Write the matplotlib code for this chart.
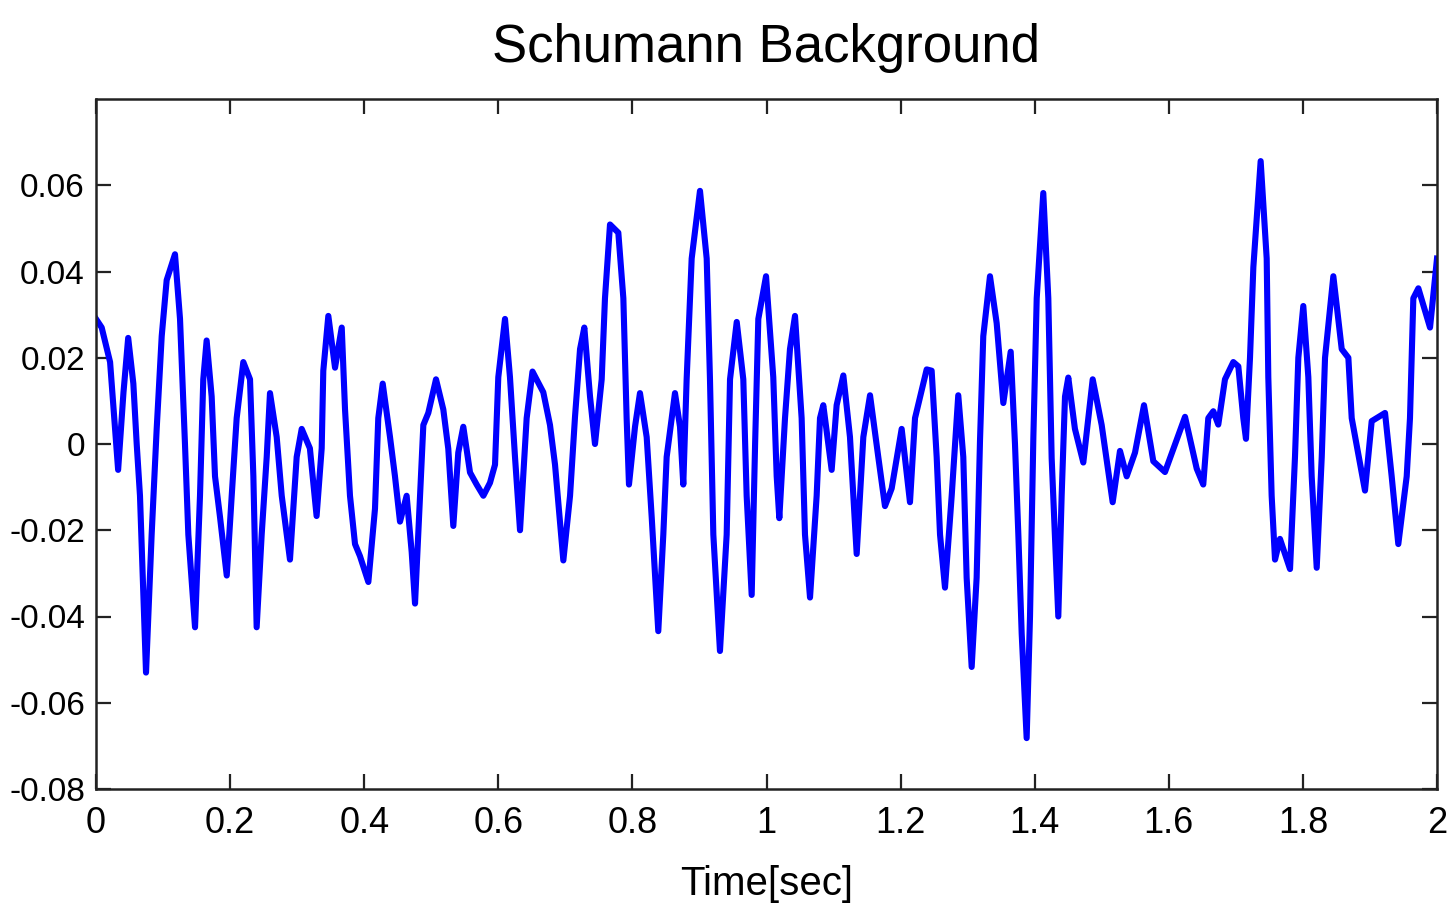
import matplotlib
matplotlib.use("Agg")
import matplotlib.pyplot as plt
from matplotlib import font_manager

# ---- data (time in s, amplitude) ----
time_s = [
    0.000, 0.0085, 0.021, 0.028, 0.033, 0.041, 0.048, 0.0557, 0.0607, 0.0656,
    0.0746, 0.083, 0.0905, 0.098, 0.1054, 0.1178, 0.1253, 0.1327, 0.1377, 0.1477,
    0.1551, 0.160, 0.165, 0.1725, 0.1775, 0.185, 0.195, 0.2024, 0.2098, 0.2197,
    0.2297, 0.2347, 0.2396, 0.2471, 0.2546, 0.2595, 0.2695, 0.277, 0.2893, 0.2993,
    0.3068, 0.319, 0.329, 0.3366, 0.339, 0.3465, 0.3565, 0.3665, 0.3714, 0.3788,
    0.3863, 0.3937, 0.4062, 0.4161, 0.421, 0.4276, 0.4385, 0.4459, 0.4534, 0.4633,
    0.4708, 0.4758, 0.4832, 0.4882, 0.4956, 0.5071, 0.518, 0.5254, 0.5329, 0.5403,
    0.5478, 0.5578, 0.5677, 0.5777, 0.5876, 0.5951, 0.600, 0.610, 0.6174, 0.6249,
    0.6324, 0.6423, 0.651, 0.6671, 0.6771, 0.6846, 0.697, 0.707, 0.7144, 0.7219,
    0.7283, 0.7368, 0.7442, 0.7542, 0.7591, 0.7666, 0.779, 0.7865, 0.7914, 0.7949,
    0.8039, 0.8113, 0.8213, 0.8288, 0.8386, 0.8461, 0.8511, 0.8635, 0.871, 0.8759,
    0.8809, 0.8884, 0.9008, 0.9108, 0.9157, 0.9207, 0.9306, 0.9406, 0.9456, 0.9556,
    0.9654, 0.9704, 0.9779, 0.983, 0.9878, 0.9993, 1.0101, 1.0152, 1.0191, 1.0276,
    1.035, 1.0425, 1.0524, 1.0574, 1.0649, 1.0748, 1.0798, 1.0847, 1.0972, 1.1046,
    1.1146, 1.1245, 1.1295, 1.1345, 1.1444, 1.1544, 1.1667, 1.1767, 1.1867, 1.2016,
    1.214, 1.2215, 1.2389, 1.2463, 1.2538, 1.2588, 1.2662, 1.2762, 1.286, 1.2935,
    1.2985, 1.306, 1.3134, 1.3184, 1.3233, 1.3333, 1.3433, 1.3532, 1.3642, 1.3706,
    1.3756, 1.3806, 1.388, 1.393, 1.398, 1.403, 1.4128, 1.4203, 1.4253, 1.4352,
    1.4402, 1.4452, 1.4501, 1.4600, 1.4725, 1.4865, 1.4999, 1.5163, 1.5272, 1.5372,
    1.5496, 1.563, 1.5769, 1.5943, 1.6242, 1.6416, 1.6514, 1.6589, 1.6664, 1.6738,
    1.6838, 1.6962, 1.7037, 1.7111, 1.7151, 1.7211, 1.7261, 1.737, 1.746, 1.7484,
    1.7534, 1.7584, 1.7658, 1.7808, 1.7882, 1.7932, 1.8006, 1.8081, 1.8131, 1.8206,
    1.8281, 1.833, 1.8454, 1.8579, 1.8678, 1.8728, 1.8926, 1.9026, 1.9225, 1.9324,
    1.9423, 1.9548, 1.9597, 1.9647, 1.9722, 1.9896, 2.000,
]
amplitude = [
    0.029, 0.027, 0.019, 0.0044, -0.006, 0.012, 0.0246, 0.014, 0.0, -0.012,
    -0.053, -0.021, 0.0035, 0.025, 0.038, 0.044, 0.029, 0.0, -0.021, -0.0425,
    -0.012, 0.015, 0.024, 0.011, -0.0075, -0.017, -0.0305, -0.012, 0.006, 0.019,
    0.015, -0.0075, -0.0425, -0.021, -0.003, 0.0118, 0.0016, -0.012, -0.0268, -0.003,
    0.0035, -0.001, -0.0167, -0.001, 0.017, 0.0297, 0.0177, 0.027, 0.008, -0.012,
    -0.0232, -0.026, -0.032, -0.015, 0.006, 0.014, 0.0016, -0.0075, -0.018, -0.012,
    -0.025, -0.037, -0.012, 0.0044, 0.0072, 0.015, 0.008, -0.0011, -0.019, -0.002,
    0.004, -0.0066, -0.0094, -0.012, -0.009, -0.0048, 0.0155, 0.029, 0.0155, -0.003,
    -0.020, 0.006, 0.0168, 0.012, 0.0044, -0.0048, -0.027, -0.012, 0.0063, 0.022,
    0.027, 0.011, 0.0, 0.015, 0.0338, 0.0509, 0.049, 0.0338, 0.006, -0.0094,
    0.004, 0.0118, 0.0016, -0.017, -0.0434, -0.021, -0.003, 0.0118, 0.004, -0.0094,
    0.015, 0.043, 0.0587, 0.043, 0.015, -0.021, -0.048, -0.021, 0.015, 0.0283,
    0.015, -0.012, -0.035, 0.0, 0.029, 0.0389, 0.0155, -0.0075, -0.0172, 0.006,
    0.022, 0.0297, 0.006, -0.021, -0.0356, -0.012, 0.006, 0.009, -0.006, 0.009,
    0.0159, 0.0016, -0.012, -0.0255, 0.0016, 0.0113, -0.003, -0.0144, -0.0103, 0.0035,
    -0.0135, 0.006, 0.0173, 0.017, -0.003, -0.021, -0.0333, -0.012, 0.0113, -0.003,
    -0.031, -0.0517, -0.031, 0.0007, 0.025, 0.0389, 0.028, 0.0095, 0.0214, 0.0,
    -0.021, -0.044, -0.0682, -0.040, 0.0016, 0.0338, 0.0582, 0.0338, -0.0033, -0.040,
    -0.012, 0.011, 0.0154, 0.0035, -0.0043, 0.015, 0.0044, -0.0135, -0.0016, -0.0075,
    -0.002, 0.009, -0.004, -0.0065, 0.0063, -0.0057, -0.0094, 0.006, 0.0076, 0.0045,
    0.015, 0.019, 0.018, 0.006, 0.0012, 0.020, 0.041, 0.0656, 0.043, 0.0155,
    -0.012, -0.0268, -0.022, -0.029, -0.003, 0.020, 0.032, 0.0155, -0.0075, -0.0287,
    -0.003, 0.020, 0.0389, 0.022, 0.020, 0.006, -0.0108, 0.0053, 0.0072, -0.0075,
    -0.0232, -0.0075, 0.006, 0.0338, 0.0361, 0.027, 0.043,
]

x_ticks = [0, 0.2, 0.4, 0.6, 0.8, 1.0, 1.2, 1.4, 1.6, 1.8, 2.0]
x_tick_labels = ["0", "0.2", "0.4", "0.6", "0.8", "1", "1.2", "1.4", "1.6", "1.8", "2"]
y_ticks = [-0.08, -0.06, -0.04, -0.02, 0, 0.02, 0.04, 0.06]
y_tick_labels = ["-0.08", "-0.06", "-0.04", "-0.02", "0", "0.02", "0.04", "0.06"]

title_text = "Schumann Background"
xlabel_text = "Time[sec]"

# ---- fonts ----
avail = {f.name for f in font_manager.fontManager.ttflist}
fam = [f for f in ["Liberation Sans Narrow", "Liberation Sans", "DejaVu Sans"] if f in avail]
plt.rcParams["font.family"] = fam

W, H, DPI = 1451, 910, 100
fig = plt.figure(figsize=(W / DPI, H / DPI), dpi=DPI, facecolor="white")
ax = fig.add_axes([96 / W, 1 - 789 / H, (1437 - 96) / W, (789 - 99) / H])

ax.plot(time_s, amplitude, color="#0000ff", linewidth=4.4, solid_joinstyle="round")

ax.set_xlim(0, 2)
ax.set_ylim(-0.08, 0.08)
ax.set_xticks(x_ticks)
ax.set_xticklabels(x_tick_labels)
ax.set_yticks(y_ticks)
ax.set_yticklabels(y_tick_labels)

ax.tick_params(axis="both", which="both", direction="in", length=11, width=1.6,
               color="#222222", top=True, right=True, labelsize=24)
ax.tick_params(axis="x", pad=12, labelsize=26)
ax.tick_params(axis="y", pad=8)
for sp in ax.spines.values():
    sp.set_linewidth(1.8)
    sp.set_color("#222222")

fig.text(766.5 / W, 1 - 62 / H, title_text, ha="center", va="baseline", fontsize=38, color="black")
fig.text(766.5 / W, 1 - 895 / H, xlabel_text, ha="center", va="baseline", fontsize=29, color="black")

fig.savefig("out.png", dpi=DPI, facecolor="white")
